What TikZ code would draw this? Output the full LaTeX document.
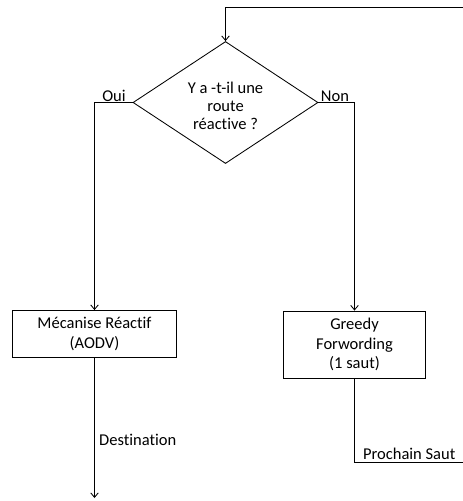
\documentclass[tikz,border=0pt]{standalone}
\usepackage{fontspec}
\setmainfont{Carlito}[Ligatures={NoCommon,NoRare,NoContextual}]
\usetikzlibrary{shapes.geometric,arrows.meta}
\begin{document}
\begin{tikzpicture}[x=1pt,y=-1pt,
  every node/.style={font=\fontsize{16.5}{19.5}\selectfont},
  flow/.style={draw=black,line width=0.85pt},
  arr/.style={flow,-{Straight Barb[length=4.5pt,width=7.5pt,line width=0.85pt]}},
  decision/.style={draw=black,line width=0.85pt,shape=diamond,aspect=1.52,
    minimum width=185pt,minimum height=122pt,inner sep=0pt},
  process/.style={draw=black,line width=0.85pt,rectangle,inner sep=0pt,align=center},
  lbl/.style={inner sep=0pt}
]
\useasboundingbox (0,0) rectangle (463,501);

% decision and the two actions
\node[decision] (q) at (225.5,102.5) {};
\node[lbl,align=center] (qtext) at (225.5,106) {Y a -t-il une\\[-1.5pt]route\\[-1.5pt]réactive ?};
\node[process,minimum width=164pt,minimum height=47pt] (aodv) at (94.5,334) {Mécanise Réactif\\(AODV)};
\node[process,minimum width=142pt,minimum height=67pt] (greedy) at (354.5,344.5) {Greedy\\Forwording\\(1 saut)};

% free ends of the connectors
\coordinate (loopin) at (463,7.5);
\coordinate (dest) at (94.5,498);
\coordinate (next) at (463,462.5);

% loop back into the decision
\draw[arr] (loopin) -- (225.5,7.5) -- (q.north);

% yes branch
\draw[arr] (q.west) -- (aodv.north |- q.west) -- (aodv.north);
\node[lbl,anchor=base] (oui) at (114,101.5) {Oui};

% no branch
\draw[arr] (q.east) -- (greedy.north |- q.east) -- (greedy.north);
\node[lbl,anchor=base] (non) at (335,101.5) {Non};

% outputs
\draw[arr] (aodv.south) -- (dest);
\node[lbl,anchor=west] (destl) at (99,440) {Destination};
\draw[flow] (greedy.south) -- (greedy.south |- next) -- (next);
\node[lbl,anchor=base west] (nextl) at (363,459) {Prochain Saut};
\end{tikzpicture}
\end{document}
